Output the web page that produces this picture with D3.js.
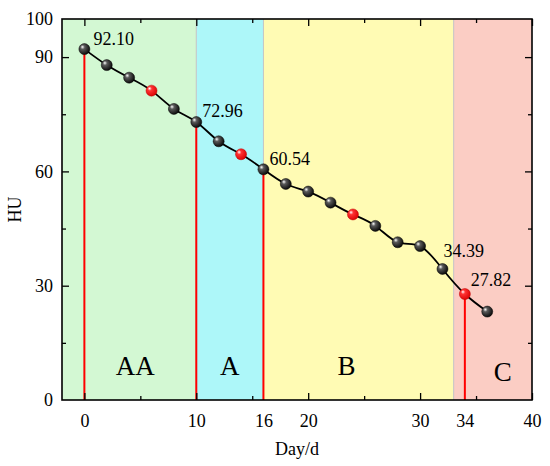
<!DOCTYPE html>
<html>
<head>
<meta charset="utf-8">
<script src="https://cdn.jsdelivr.net/npm/d3@7"></script>
<style>
  body { margin: 0; background: #fff; }
  svg { display: block; }
  text { font-family: "Liberation Serif", "Times New Roman", serif; fill: #000; }
</style>
</head>
<body>
<svg width="550" height="466"></svg>
<script>
// data
const days = [0, 2, 4, 6, 8, 10, 12, 14, 16, 18, 20, 22, 24, 26, 28, 30, 32, 34, 36];
const hu = [92.10, 87.9, 84.6, 81.2, 76.4, 72.96, 67.9, 64.5, 60.54, 56.7, 54.7, 51.8, 48.7, 45.7, 41.4, 40.4, 34.39, 27.82, 23.2];
const redDays = [6, 14, 24, 34];
const labelDays = [0, 10, 16, 32, 34];
const dropDays = [0, 10, 16, 34];

const regionNames = ["AA", "A", "B", "C"];
const regionStart = [-2, 10, 16, 33];
const regionEnd = [10, 16, 33, 40];
const regionColors = ["#d3f8d3", "#adf7f9", "#fffbb4", "#fbcdc4"];

const xTickLabels = [0, 10, 16, 20, 30, 34, 40];
const yTickLabels = [0, 30, 60, 90, 100];

(function () {
  const serif = '"Liberation Serif", "Times New Roman", serif';
  const margin = { top: 19, right: 18, bottom: 66, left: 62 },
        W = 550, H = 466,
        width = W - margin.left - margin.right,
        height = H - margin.top - margin.bottom;

  const svg = d3.select("svg");
  const g = svg.append("g").attr("transform", `translate(${margin.left},${margin.top})`);

  const x = d3.scaleLinear().domain([-2, 40]).range([0, width]);
  const y = d3.scaleLinear().domain([0, 100]).range([height, 0]);

  const pts = days.map((d, i) => ({ d, v: hu[i] }));
  const byDay = new Map(pts.map(p => [p.d, p]));

  // gradients for the spheres
  const defs = svg.append("defs");
  function sphere(id, mid, edge) {
    const rg = defs.append("radialGradient").attr("id", id)
      .attr("cx", "38%").attr("cy", "38%").attr("r", "70%")
      .attr("fx", "32%").attr("fy", "30%");
    rg.append("stop").attr("offset", "0%").attr("stop-color", "#fff");
    rg.append("stop").attr("offset", "28%").attr("stop-color", mid);
    rg.append("stop").attr("offset", "100%").attr("stop-color", edge);
  }
  sphere("ballBlack", "#5a5a5a", "#000");
  sphere("ballRed", "#ff3333", "#d80000");

  // background regions
  g.selectAll(".region")
    .data(regionNames)
    .enter()
    .append("rect")
    .attr("x", (d, i) => x(regionStart[i]))
    .attr("y", 0)
    .attr("width", (d, i) => x(regionEnd[i]) - x(regionStart[i]))
    .attr("height", height)
    .attr("fill", (d, i) => regionColors[i]);

  // thin borders between regions
  g.selectAll(".edge")
    .data(regionStart.slice(1))
    .enter()
    .append("line")
    .attr("x1", d => x(d)).attr("x2", d => x(d))
    .attr("y1", 0).attr("y2", height)
    .attr("stroke", "#c4c4c4")
    .attr("stroke-width", 1);

  // region names
  const nudge = [6, 0, -12, 10];
  const nameY = [375, 375, 375, 381];
  g.selectAll(".rname")
    .data(regionNames)
    .enter()
    .append("text")
    .attr("x", (d, i) => x((regionStart[i] + regionEnd[i]) / 2) + nudge[i])
    .attr("y", (d, i) => nameY[i] - margin.top)
    .attr("text-anchor", "middle")
    .style("font-size", "27px")
    .text(d => d);

  // red drop lines
  g.selectAll(".drop")
    .data(dropDays.map(d => byDay.get(d)))
    .enter()
    .append("line")
    .attr("x1", p => x(p.d)).attr("x2", p => x(p.d))
    .attr("y1", p => y(p.v)).attr("y2", height)
    .attr("stroke", "#ff0000")
    .attr("stroke-width", 2);

  // axes: ticks pointing inward
  function ticks(axisFn, vals, size, transform) {
    const a = g.append("g")
      .attr("transform", transform)
      .call(axisFn.tickValues(vals).tickSize(size).tickFormat(""));
    a.select(".domain").remove();
    a.selectAll("line").attr("stroke", "#000").attr("stroke-width", 1.3);
  }
  const xMajor = [0, 10, 20, 30, 40], xMinor = [5, 15, 25, 35];
  const yMajor = [30, 60, 90], yMinor = [15, 45, 75];
  ticks(d3.axisBottom(x), xMajor, -7, `translate(0,${height})`);
  ticks(d3.axisBottom(x), xMinor, -4, `translate(0,${height})`);
  ticks(d3.axisTop(x), xMajor, -7, "translate(0,0)");
  ticks(d3.axisTop(x), xMinor, -4, "translate(0,0)");
  ticks(d3.axisLeft(y), yMajor, -7, "translate(0,0)");
  ticks(d3.axisLeft(y), yMinor, -4, "translate(0,0)");
  ticks(d3.axisRight(y), yMajor, -7, `translate(${width},0)`);
  ticks(d3.axisRight(y), yMinor, -4, `translate(${width},0)`);

  // tick labels
  const xl = g.append("g")
    .attr("transform", `translate(0,${height})`)
    .call(d3.axisBottom(x).tickValues(xTickLabels).tickSize(0).tickPadding(14));
  xl.select(".domain").remove();
  xl.attr("font-family", serif).attr("font-size", 18);
  xl.selectAll("text").style("font-family", serif).style("font-size", "18px");

  const yl = g.append("g")
    .call(d3.axisLeft(y).tickValues(yTickLabels).tickSize(0).tickPadding(9));
  yl.select(".domain").remove();
  yl.attr("font-family", serif).attr("font-size", 18);
  yl.selectAll("text").style("font-family", serif).style("font-size", "18px");

  // frame
  g.append("rect")
    .attr("width", width).attr("height", height)
    .attr("fill", "none")
    .attr("stroke", "#000")
    .attr("stroke-width", 1.6);

  // curve
  g.append("path")
    .datum(pts)
    .attr("fill", "none")
    .attr("stroke", "#000")
    .attr("stroke-width", 1.8)
    .attr("d", d3.line().x(p => x(p.d)).y(p => y(p.v)).curve(d3.curveNatural));

  // spheres
  g.selectAll(".ball")
    .data(pts)
    .enter()
    .append("circle")
    .attr("cx", p => x(p.d))
    .attr("cy", p => y(p.v))
    .attr("r", 5.5)
    .attr("fill", p => redDays.includes(p.d) ? "url(#ballRed)" : "url(#ballBlack)")
    .attr("stroke", p => redDays.includes(p.d) ? "#c00000" : "#000")
    .attr("stroke-width", 0.5);

  // value labels
  const lblOff = { 0: [9, -4], 10: [6, -5], 16: [6, -4], 32: [1, -12], 34: [6, -8] };
  g.selectAll(".vlabel")
    .data(labelDays.map(d => byDay.get(d)))
    .enter()
    .append("text")
    .attr("x", p => x(p.d) + lblOff[p.d][0])
    .attr("y", p => y(p.v) + lblOff[p.d][1])
    .style("font-family", serif)
    .style("font-size", "18px")
    .text(p => p.v.toFixed(2));

  // axis titles
  svg.append("text")
    .attr("x", 297)
    .attr("y", 455)
    .attr("text-anchor", "middle")
    .style("font-size", "18px")
    .text("Day/d");

  svg.append("text")
    .attr("transform", `translate(21,${margin.top + height / 2}) rotate(-90)`)
    .attr("text-anchor", "middle")
    .style("font-size", "18px")
    .text("HU");
})();
</script>
</body>
</html>
